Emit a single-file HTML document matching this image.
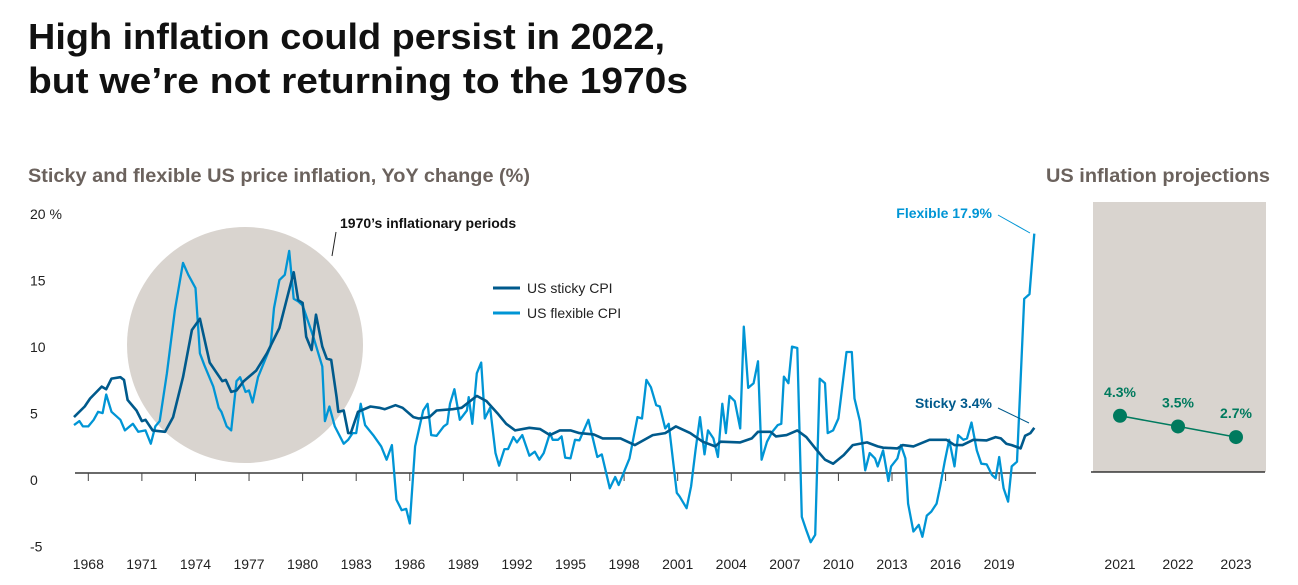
<!DOCTYPE html>
<html><head><meta charset="utf-8"><style>
html,body{margin:0;padding:0;background:#fff;}
body{width:1298px;height:585px;overflow:hidden;font-family:"Liberation Sans",sans-serif;}
svg{display:block}
</style></head><body>
<svg id="chart" width="1298" height="585" xmlns="http://www.w3.org/2000/svg" font-family="Liberation Sans, sans-serif">
<text x="28" y="49" font-size="36" font-weight="bold" fill="#111" textLength="637" lengthAdjust="spacingAndGlyphs">High inflation could persist in 2022,</text>
<text x="28" y="93" font-size="36" font-weight="bold" fill="#111" textLength="660" lengthAdjust="spacingAndGlyphs">but we’re not returning to the 1970s</text>
<text x="28" y="182" font-size="19" font-weight="bold" fill="#6b625d" textLength="502" lengthAdjust="spacingAndGlyphs">Sticky and flexible US price inflation, YoY change (%)</text>
<text x="1046" y="182" font-size="19" font-weight="bold" fill="#6b625d" textLength="224" lengthAdjust="spacingAndGlyphs">US inflation projections</text>
<circle cx="245" cy="345" r="118" fill="#d9d4cf"/>
<line x1="336" y1="232" x2="332" y2="256" stroke="#222" stroke-width="1"/>
<text x="340" y="228" font-size="14" font-weight="bold" fill="#111">1970’s inflationary periods</text>
<rect x="1093" y="202" width="173" height="270" fill="#d9d4cf"/>
<g id="yaxis"></g>
<g id="xaxis"></g>
<g id="series"></g>
<g id="proj"></g>
<line x1="493" y1="288" x2="520" y2="288" stroke="#005a8c" stroke-width="3"/>
<text x="527" y="293" font-size="14" fill="#222">US sticky CPI</text>
<line x1="493" y1="313" x2="520" y2="313" stroke="#0095d5" stroke-width="3"/>
<text x="527" y="318" font-size="14" fill="#222">US flexible CPI</text>
<text x="992" y="218" font-size="14" font-weight="bold" fill="#0095d5" text-anchor="end">Flexible 17.9%</text>
<line x1="998" y1="215" x2="1030" y2="233" stroke="#0095d5" stroke-width="1"/>
<text x="992" y="408" font-size="14" font-weight="bold" fill="#005a8c" text-anchor="end">Sticky 3.4%</text>
<line x1="998" y1="408" x2="1029" y2="423" stroke="#005a8c" stroke-width="1"/>
</svg>
<script>
const yTicks=[20,15,10,5,0,-5];
const yTickLabels=["20 %","15","10","5","0","-5"];
const xTicks=[1968,1971,1974,1977,1980,1983,1986,1989,1992,1995,1998,2001,2004,2007,2010,2013,2016,2019];
const stickyYears=[1967.2,1967.8,1968.1,1968.75,1969.0,1969.3,1969.8,1970.0,1970.2,1970.7,1971.0,1971.2,1971.6,1972.3,1972.75,1973.3,1973.8,1974.25,1974.8,1975.5,1975.7,1976.0,1976.3,1976.7,1977.4,1978.0,1978.7,1979.5,1979.75,1980.0,1980.2,1980.5,1980.75,1981.1,1981.35,1981.6,1981.9,1982.0,1982.3,1982.55,1982.7,1983.1,1983.8,1984.3,1984.6,1985.2,1985.6,1986.2,1986.5,1987.1,1987.5,1988.4,1988.9,1989.75,1990.3,1990.9,1991.4,1991.9,1992.7,1993.3,1993.85,1994.4,1995.0,1995.5,1996.3,1996.8,1997.8,1998.6,1999.6,2000.3,2000.9,2001.7,2002.4,2003.1,2003.4,2004.5,2005.15,2005.5,2006.2,2006.5,2007.1,2007.7,2008.2,2008.8,2009.25,2009.7,2010.3,2010.8,2011.6,2012.2,2012.5,2013.3,2013.6,2014.2,2015.1,2016.05,2016.5,2016.95,2017.55,2018.3,2018.8,2019.1,2019.4,2019.7,2020.2,2020.45,2020.75,2020.97];
const stickyValues=[4.2,5.0,5.6,6.5,6.3,7.1,7.2,7.0,5.5,4.7,3.9,4.0,3.2,3.1,4.2,7.2,10.75,11.6,8.3,6.9,7.0,6.1,6.2,6.9,7.7,9.0,10.9,15.1,13.0,12.8,10.25,9.25,11.9,9.5,8.6,8.5,5.7,4.6,4.7,3.0,3.0,4.6,5.0,4.9,4.8,5.1,4.9,4.2,4.1,4.2,4.7,4.8,4.9,5.8,5.4,4.5,3.7,3.2,3.4,3.3,2.85,3.2,3.2,3.0,2.9,2.6,2.6,2.1,2.85,3.0,3.5,3.0,2.35,2.0,2.35,2.3,2.6,3.1,3.1,2.75,2.85,3.2,2.7,1.7,1.0,0.7,1.35,2.1,2.3,2.0,1.9,1.85,2.1,2.0,2.5,2.5,2.1,2.1,2.5,2.45,2.7,2.6,2.2,2.1,1.85,2.8,3.0,3.4];
const flexYears=[1967.2,1967.5,1967.7,1968.0,1968.3,1968.55,1968.8,1969.0,1969.3,1969.8,1970.05,1970.5,1970.8,1971.2,1971.5,1971.75,1972.0,1972.4,1972.85,1973.3,1973.6,1974.0,1974.25,1974.5,1975.0,1975.3,1975.45,1975.75,1976.0,1976.3,1976.5,1976.8,1977.0,1977.2,1977.5,1978.2,1978.4,1978.7,1979.0,1979.25,1979.5,1979.75,1980.0,1980.6,1981.1,1981.25,1981.5,1981.8,1982.3,1982.55,1982.8,1983.0,1983.25,1983.5,1983.95,1984.4,1984.7,1985.0,1985.25,1985.55,1985.8,1986.0,1986.3,1986.75,1987.0,1987.2,1987.5,1987.9,1988.1,1988.25,1988.5,1988.8,1989.2,1989.3,1989.5,1989.75,1990.0,1990.2,1990.5,1990.8,1991.0,1991.3,1991.5,1991.8,1992.0,1992.3,1992.7,1993.0,1993.25,1993.5,1993.85,1994.0,1994.3,1994.5,1994.7,1995.0,1995.25,1995.5,1996.0,1996.5,1996.75,1997.2,1997.5,1997.7,1998.0,1998.3,1998.75,1999.0,1999.25,1999.5,1999.8,2000.0,2000.3,2000.5,2000.95,2001.1,2001.5,2001.75,2002.0,2002.25,2002.5,2002.7,2003.0,2003.25,2003.5,2003.7,2003.9,2004.2,2004.5,2004.7,2004.95,2005.25,2005.5,2005.7,2006.0,2006.3,2006.6,2006.8,2006.95,2007.2,2007.4,2007.7,2007.95,2008.2,2008.45,2008.7,2008.95,2009.25,2009.4,2009.7,2010.0,2010.45,2010.75,2010.9,2011.2,2011.5,2011.75,2012.05,2012.2,2012.5,2012.8,2012.95,2013.3,2013.5,2013.75,2013.9,2014.2,2014.5,2014.7,2014.95,2015.2,2015.5,2015.7,2015.95,2016.2,2016.5,2016.7,2017.0,2017.2,2017.45,2017.75,2018.0,2018.3,2018.6,2018.8,2019.0,2019.25,2019.5,2019.7,2020.0,2020.4,2020.7,2020.97];
const flexValues=[3.6,3.9,3.5,3.5,4.0,4.6,4.5,5.9,4.6,4.0,3.2,3.7,3.1,3.2,2.2,3.5,3.9,7.5,12.25,15.8,14.9,13.9,9.0,8.1,6.5,4.9,4.6,3.5,3.2,6.9,7.2,6.1,6.2,5.3,7.2,9.5,12.4,14.5,14.9,16.7,13.1,12.9,12.6,10.25,8.0,3.9,5.0,3.5,2.2,2.5,3.0,3.0,5.2,3.6,2.85,2.0,1.0,2.1,-2.0,-2.8,-2.7,-3.8,2.0,4.7,5.2,2.85,2.8,3.5,3.7,5.2,6.3,4.0,4.7,5.7,3.7,7.5,8.3,4.1,4.9,1.5,0.55,1.8,1.8,2.7,2.3,2.85,1.3,1.6,1.0,1.5,3.0,2.5,2.5,2.75,1.15,1.1,2.5,2.45,4.0,1.2,1.4,-1.15,-0.3,-0.9,0.1,1.1,4.2,4.1,7.0,6.45,5.1,5.0,3.35,3.7,-1.5,-1.75,-2.65,-1.0,1.7,4.2,1.4,3.2,2.6,1.2,5.2,3.0,5.8,5.4,3.35,11.0,6.4,6.75,8.4,1.0,2.35,3.1,3.6,3.7,7.25,6.75,9.5,9.4,-3.3,-4.3,-5.2,-4.65,7.1,6.75,3.0,3.2,4.1,9.1,9.1,5.6,3.9,0.2,1.5,1.1,0.5,1.7,-0.6,0.5,1.1,2.1,1.1,-2.3,-4.4,-3.9,-4.8,-3.2,-2.9,-2.3,-1.0,0.85,2.5,0.5,2.85,2.5,2.6,3.8,1.7,0.7,0.65,-0.15,-0.4,1.2,-1.15,-2.15,0.5,0.85,13.1,13.45,18.0];
const projYears=["2021","2022","2023"];
const projValues=[4.3,3.5,2.7];
const projLabels=["4.3%","3.5%","2.7%"];

const NS="http://www.w3.org/2000/svg";
const Y0=473, PXU=13.3;
function yScale(v){return Y0-v*PXU;}
function xScale(yr){return 88.3+(yr-1968)*17.86;}
function projX(i){return 1120+i*58;}
function mk(tag,attrs,parent){const e=document.createElementNS(NS,tag);for(const k in attrs)e.setAttribute(k,attrs[k]);parent.appendChild(e);return e;}

const ya=document.getElementById('yaxis');
yTicks.forEach((t,i)=>{
  const el=mk('text',{x:30,y:yScale(t)+12,'font-size':14,fill:'#222'},ya);
  el.textContent=yTickLabels[i];
  
  
});
const xa=document.getElementById('xaxis');
const axl=mk('line',{x1:75,y1:Y0,x2:1036,y2:Y0,stroke:'#111','stroke-width':1.3},xa);


xTicks.forEach(t=>{
  const tk=mk('line',{x1:xScale(t),y1:Y0,x2:xScale(t),y2:Y0+8,stroke:'#444','stroke-width':1},xa);
  
  
  const lb=mk('text',{x:xScale(t),y:569,'font-size':14,fill:'#222','text-anchor':'middle'},xa);
  lb.textContent=t;
  
  
});
const sg=document.getElementById('series');
function pathFor(xs,vs){return xs.map((x,i)=>(i?'L':'M')+xScale(x).toFixed(1)+' '+yScale(vs[i]).toFixed(1)).join(' ');}
const fl=mk('path',{d:pathFor(flexYears,flexValues),fill:'none',stroke:'#0095d5','stroke-width':2.3,'stroke-linejoin':'round'},sg);


const st=mk('path',{d:pathFor(stickyYears,stickyValues),fill:'none',stroke:'#005a8c','stroke-width':2.6,'stroke-linejoin':'round'},sg);



const pg=document.getElementById('proj');
const pax=mk('line',{x1:1091,y1:472,x2:1265,y2:472,stroke:'#111','stroke-width':1.3},pg);


const pl=mk('path',{d:projValues.map((v,i)=>(i?'L':'M')+projX(i)+' '+yScale(v).toFixed(1)).join(' '),fill:'none',stroke:'#007a5e','stroke-width':1.5},pg);


projValues.forEach((v,i)=>{
  const c=mk('circle',{cx:projX(i),cy:yScale(v),r:7,fill:'#007a5e'},pg);
  
  
  const l=mk('text',{x:projX(i),y:yScale(v)-19,'font-size':14,'font-weight':'bold',fill:'#007a5e','text-anchor':'middle'},pg);
  l.textContent=projLabels[i];
  
  
  const yl=mk('text',{x:projX(i),y:569,'font-size':14,fill:'#222','text-anchor':'middle'},pg);
  yl.textContent=projYears[i];
  
  
});
</script>
</body></html>
